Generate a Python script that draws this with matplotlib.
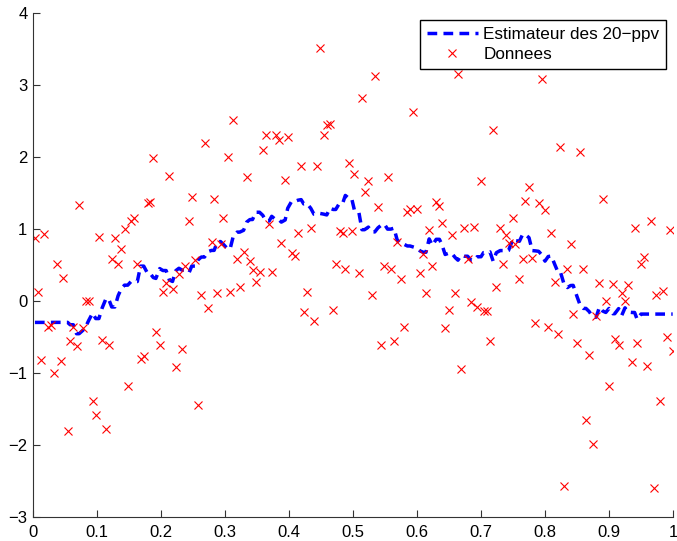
import numpy as np
import matplotlib
matplotlib.use("Agg")
import matplotlib.pyplot as plt

plt.rcParams["font.family"] = ["Liberation Sans", "DejaVu Sans"]
plt.rcParams["font.size"] = 12

# noisy samples (x sorted)
x_data = [
    0.003, 0.008, 0.013, 0.017, 0.023, 0.028, 0.033, 0.038, 0.043, 0.047,
    0.054, 0.058, 0.063, 0.068, 0.072, 0.078, 0.083, 0.087, 0.093, 0.098,
    0.103, 0.108, 0.114, 0.118, 0.123, 0.128, 0.133, 0.138, 0.143, 0.148,
    0.153, 0.158, 0.163, 0.168, 0.173, 0.179, 0.183, 0.188, 0.192, 0.198,
    0.203, 0.208, 0.213, 0.218, 0.223, 0.228, 0.233, 0.238, 0.244, 0.248,
    0.253, 0.258, 0.263, 0.268, 0.274, 0.279, 0.283, 0.288, 0.293, 0.297,
    0.304, 0.308, 0.313, 0.319, 0.323, 0.329, 0.334, 0.339, 0.343, 0.348,
    0.354, 0.359, 0.364, 0.369, 0.373, 0.379, 0.384, 0.388, 0.394, 0.398,
    0.404, 0.409, 0.414, 0.419, 0.423, 0.428, 0.434, 0.439, 0.443, 0.448,
    0.454, 0.459, 0.464, 0.469, 0.473, 0.479, 0.484, 0.488, 0.494, 0.498,
    0.502, 0.509, 0.514, 0.518, 0.524, 0.529, 0.534, 0.539, 0.544, 0.549,
    0.554, 0.559, 0.564, 0.569, 0.575, 0.579, 0.585, 0.589, 0.593, 0.600,
    0.605, 0.610, 0.614, 0.619, 0.624, 0.630, 0.635, 0.639, 0.644, 0.650,
    0.654, 0.660, 0.664, 0.669, 0.674, 0.679, 0.685, 0.689, 0.694, 0.700,
    0.704, 0.710, 0.714, 0.719, 0.724, 0.730, 0.735, 0.739, 0.743, 0.750,
    0.753, 0.760, 0.765, 0.769, 0.775, 0.780, 0.785, 0.790, 0.795, 0.800,
    0.805, 0.810, 0.815, 0.820, 0.824, 0.830, 0.835, 0.840, 0.844, 0.850,
    0.855, 0.860, 0.864, 0.869, 0.875, 0.880, 0.885, 0.890, 0.895, 0.900,
    0.906, 0.909, 0.915, 0.920, 0.925, 0.930, 0.936, 0.940, 0.944, 0.950,
    0.955, 0.960, 0.965, 0.970, 0.974, 0.980, 0.985, 0.990, 0.995, 0.9995,
]
y_data = [
    0.87, 0.12, -0.82, 0.93, -0.36, -0.34, -1.00, 0.52, -0.83, 0.32,
    -1.81, -0.56, -0.36, -0.62, 1.34, -0.38, 0.00, 0.00, -1.39, -1.58,
    0.89, -0.54, -1.78, -0.61, 0.59, 0.87, 0.52, 0.72, 1.00, -1.18,
    1.11, 1.15, 0.52, -0.80, -0.77, 1.36, 1.38, 1.98, -0.43, -0.61,
    0.13, 0.25, 1.74, 0.16, -0.92, 0.375, -0.66, 0.49, 1.11, 1.44,
    0.57, -1.45, 0.083, 2.19, -0.10, 0.82, 1.41, 0.115, 0.79, 1.15,
    2.00, 0.13, 2.51, 0.58, 0.20, 0.68, 1.72, 0.56, 0.43, 0.27,
    0.40, 2.10, 2.30, 1.07, 0.40, 2.30, 2.24, 0.80, 1.68, 2.28,
    0.66, 0.625, 0.94, 1.87, -0.15, 0.125, 1.01, -0.28, 1.87, 3.52,
    2.30, 2.44, 2.46, -0.12, 0.52, 0.97, 0.95, 0.44, 1.91, 0.97,
    1.77, 0.39, 2.82, 1.51, 1.67, 0.083, 3.13, 1.31, -0.61, 0.48,
    1.72, 0.45, -0.56, 0.815, 0.31, -0.365, 1.24, 1.28, 2.63, 1.28,
    0.385, 0.65, 0.106, 0.98, 0.49, 1.375, 1.32, 1.09, -0.38, -0.125,
    0.91, 0.106, 3.15, -0.95, 1.02, 0.58, -0.01, 1.03, -0.08, 1.66,
    -0.135, -0.135, -0.56, 2.38, 0.19, 1.02, 0.52, 0.91, 0.81, 1.15,
    0.79, 0.31, 0.58, 1.39, 1.59, 0.60, -0.31, 1.36, 3.09, 1.27,
    -0.365, 0.94, 0.26, -0.46, 2.14, -2.57, 0.44, 0.79, -0.18, -0.59,
    2.07, 0.44, -1.65, -0.745, -1.99, -0.21, 0.255, 1.41, 0.004, -1.18,
    0.235, -0.53, -0.61, 0.115, 0.004, 0.22, -0.85, 1.01, -0.59, 0.52,
    0.615, -0.90, 1.11, -2.60, 0.08, -1.39, 0.14, -0.50, 0.98, -0.69,
]
k_neighbors = 20

x_ticks = [0, 0.1, 0.2, 0.3, 0.4, 0.5, 0.6, 0.7, 0.8, 0.9, 1]
x_tick_labels = ["0", "0.1", "0.2", "0.3", "0.4", "0.5", "0.6", "0.7", "0.8", "0.9", "1"]
y_ticks = [-3, -2, -1, 0, 1, 2, 3, 4]

xd = np.array(x_data)
yd = np.array(y_data)

# k nearest neighbours regression evaluated at each sample
est = []
for xi in xd:
    idx = np.argsort(np.abs(xd - xi), kind="stable")[:k_neighbors]
    est.append(yd[idx].mean())

fig = plt.figure(figsize=(6.77, 5.41), dpi=100)
ax = fig.add_axes([33 / 677, 24 / 541, 640 / 677, 504 / 541])

ax.plot(xd, est, color="#0000ff", lw=2.5, ls=(0, (2.8, 1.8)),
        label="Estimateur des 20\u2212ppv")
ax.plot(xd, yd, ls="none", marker="x", color="#ff0000", ms=5.5, mew=0.8,
        label="Donnees")

ax.set_xlim(0, 1)
ax.set_ylim(-3, 4)
ax.set_xticks(x_ticks)
ax.set_xticklabels(x_tick_labels)
ax.set_yticks(y_ticks)

for side in ["top", "right"]:
    ax.spines[side].set_visible(False)
for side in ["left", "bottom"]:
    ax.spines[side].set_linewidth(0.8)
    ax.spines[side].set_color("#333333")
ax.tick_params(direction="in", length=5, width=0.8, color="#333333",
               labelsize=12, pad=4)
ax.tick_params(axis="x", pad=6)

leg = ax.legend(loc="upper right", fancybox=False, framealpha=1,
                edgecolor="black", borderaxespad=0.4, handlelength=3.0,
                handletextpad=0.3, borderpad=0.4, labelspacing=0.3,
                fontsize=12.3)
leg.get_frame().set_linewidth(1.0)

fig.savefig("out.png", dpi=100)
